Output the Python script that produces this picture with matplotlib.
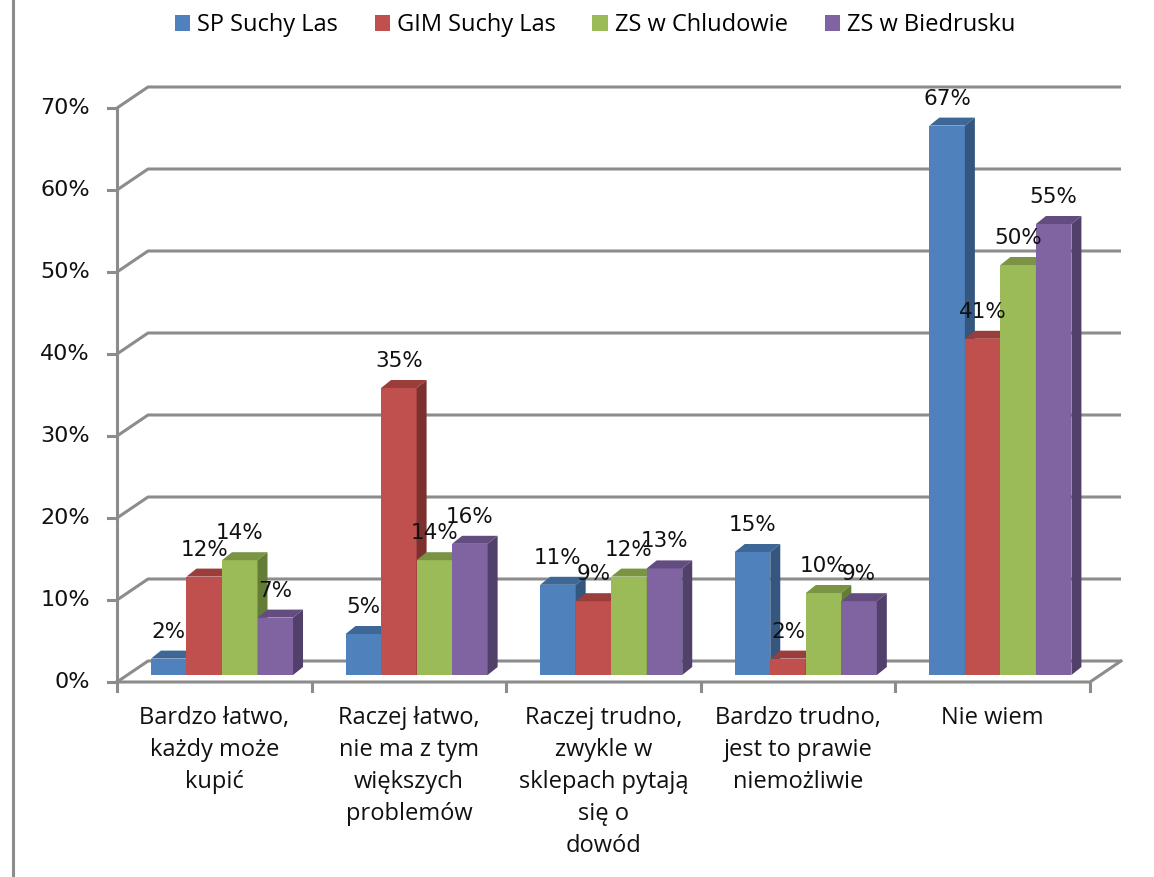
import matplotlib
matplotlib.use("Agg")
import matplotlib.pyplot as plt
from matplotlib.patches import Polygon, Patch
from matplotlib.lines import Line2D

# survey answers (categories on the x axis)
categories = [
    "Bardzo łatwo,\nkażdy może\nkupić",
    "Raczej łatwo,\nnie ma z tym\nwiększych\nproblemów",
    "Raczej trudno,\nzwykle w\nsklepach pytają\nsię o\ndowód",
    "Bardzo trudno,\njest to prawie\nniemożliwie",
    "Nie wiem",
]
schools = ["SP Suchy Las", "GIM Suchy Las", "ZS w Chludowie", "ZS w Biedrusku"]

# percentage of answers per school
sp_suchy_las = [2, 5, 11, 15, 67]
gim_suchy_las = [12, 35, 9, 2, 41]
zs_chludowo = [14, 14, 12, 10, 50]
zs_biedrusko = [7, 16, 13, 9, 55]
series = [sp_suchy_las, gim_suchy_las, zs_chludowo, zs_biedrusko]

y_ticks = [0, 10, 20, 30, 40, 50, 60, 70]

# colours: front face, top face, side face
front_col = ["#4F81BD", "#C0504D", "#9BBB59", "#8064A2"]
top_col = ["#3D6797", "#9A3D3B", "#7A9443", "#634C80"]
side_col = ["#34567F", "#7C3130", "#637C36", "#50406A"]
grid_col = "#8C8C8C"

W, H = 1154, 877
fig = plt.figure(figsize=(W / 100, H / 100), dpi=100)
ax = fig.add_axes([0, 0, 1, 1])

# map data units onto the canvas: one category = 194.6 px, 1% = 8.2 px
px_x, px_y = 194.6, 8.2
x0_px, y0_px = 117, 682
ax.set_xlim(-x0_px / px_x, (W - x0_px) / px_x)
ax.set_ylim(-(H - y0_px) / px_y, y0_px / px_y)
ax.axis("off")

n = len(categories)
# wall depth
DX, DY = 31 / px_x, 21 / px_y
# bar plane offset and bar depth
BX, BY = 11 / px_x, 7 / px_y
bdx, bdy = 10 / px_x, 8 / px_y
gap = 0.118
bw = 0.1825

# back wall gridlines with the diagonal from the front axis
for v in y_ticks:
    ax.plot([0, DX, n + DX], [v, v + DY, v + DY], color=grid_col, lw=2.2,
            zorder=1, solid_capstyle="butt")
    ax.plot([-9 / px_x, 0], [v, v], color=grid_col, lw=2.2, zorder=1)
    ax.text(-27 / px_x, v, f"{v}%", ha="right", va="center",
            fontsize=16, family="DejaVu Sans", color="#111111")

# front floor edge, right diagonal and vertical axis
ax.plot([0, n, n + DX], [0, 0, DY], color=grid_col, lw=2.2, zorder=1)
ax.plot([0, 0], [0, y_ticks[-1]], color=grid_col, lw=2.2, zorder=1)
for i in range(n + 1):
    ax.plot([i, i], [0, -9 / px_y], color=grid_col, lw=2.2, zorder=1)

# 3D-looking bars
for i in range(n):
    for j, vals in enumerate(series):
        v = vals[i]
        x = i + BX + gap + j * bw
        z = 2 + i * 10 + j
        ax.bar(x, v, bottom=BY, width=bw, align="edge", color=front_col[j],
               edgecolor="none", zorder=z)
        top = [(x, BY + v), (x + bw, BY + v), (x + bw + bdx, BY + v + bdy),
               (x + bdx, BY + v + bdy)]
        side = [(x + bw, BY), (x + bw, BY + v), (x + bw + bdx, BY + v + bdy),
                (x + bw + bdx, BY + bdy)]
        ax.add_patch(Polygon(top, closed=True, fc=top_col[j], ec="none", zorder=z))
        ax.add_patch(Polygon(side, closed=True, fc=side_col[j], ec="none", zorder=z))

# value labels above the bars
for i in range(n):
    for j, vals in enumerate(series):
        v = vals[i]
        x = i + BX + gap + j * bw + bw / 2
        ax.text(x, BY + v + 27 / px_y, f"{v}%", ha="center", va="center",
                fontsize=15.5, family="DejaVu Sans", color="#111111", zorder=100)

# category labels
for i, lab in enumerate(categories):
    ax.text(i + 0.5, -24 / px_y, lab, ha="center", va="top", fontsize=17,
            family="Open Sans", color="#111111", linespacing=1.45)

# chart area border on the left
fig.add_artist(Line2D([13 / W, 13 / W], [0, 1], color="#8C8C8C", lw=2.2))

handles = [Patch(facecolor=c, edgecolor="none") for c in front_col]
fig.legend(handles, schools, loc="center", bbox_to_anchor=(595 / W, 1 - 25 / H),
           ncol=4, frameon=False, handlelength=0.65, handleheight=0.65,
           handletextpad=0.3, columnspacing=1.55,
           prop={"family": "Open Sans", "size": 17})

fig.savefig("out.png", dpi=100)
